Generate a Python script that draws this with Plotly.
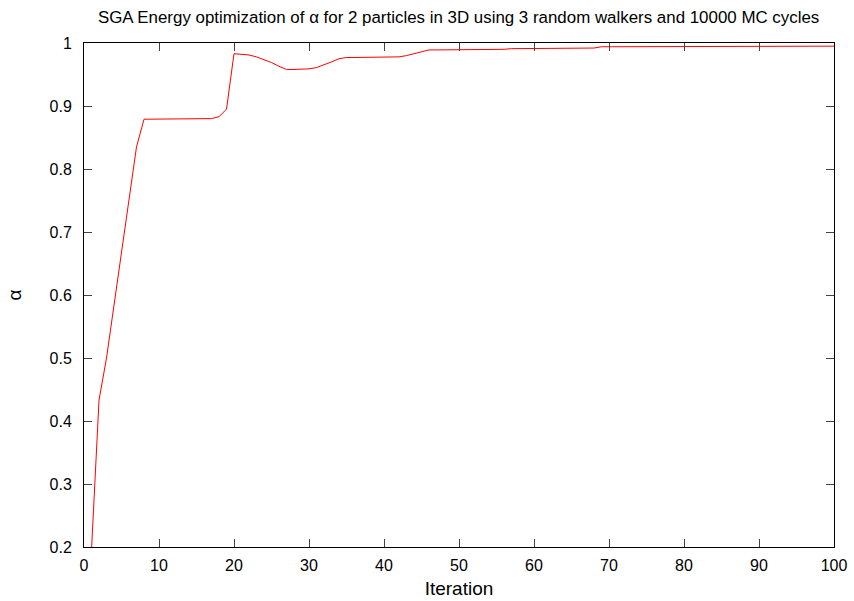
import plotly.graph_objects as go

iterations = list(range(1, 101))
alpha = [
    0.195, 0.433, 0.500, 0.585, 0.670, 0.755, 0.835, 0.879, 0.879, 0.879,
    0.879, 0.879, 0.879, 0.879, 0.879, 0.879, 0.880, 0.883, 0.895, 0.983,
    0.9825, 0.981, 0.978, 0.974, 0.969, 0.963, 0.958, 0.958, 0.958, 0.959,
    0.961, 0.965, 0.970, 0.975, 0.977, 0.977, 0.977, 0.977, 0.977, 0.977,
    0.977, 0.978, 0.980, 0.983, 0.986, 0.989, 0.989, 0.989, 0.989, 0.989,
    0.989, 0.989, 0.989, 0.989, 0.989, 0.990, 0.991, 0.991, 0.991, 0.991,
    0.991, 0.991, 0.991, 0.991, 0.991, 0.991, 0.991, 0.992, 0.994, 0.994,
    0.994, 0.994, 0.994, 0.994, 0.994, 0.994, 0.994, 0.994, 0.994, 0.994,
    0.994, 0.994, 0.994, 0.994, 0.994, 0.994, 0.994, 0.994, 0.994, 0.995,
    0.995, 0.995, 0.995, 0.995, 0.995, 0.995, 0.995, 0.995, 0.995, 0.995,
]
x_ticks = [0, 10, 20, 30, 40, 50, 60, 70, 80, 90, 100]
y_ticks = [0.2, 0.3, 0.4, 0.5, 0.6, 0.7, 0.8, 0.9, 1.0]
y_tick_labels = ["0.2", "0.3", "0.4", "0.5", "0.6", "0.7", "0.8", "0.9", "1"]

FONT = "Liberation Sans, Arial, sans-serif"

fig = go.Figure()
fig.add_trace(go.Scatter(x=iterations, y=alpha, mode="lines",
                         line=dict(color="#ff0000", width=1), showlegend=False))

axis_common = dict(showline=True, linecolor="black", linewidth=1, mirror="ticks",
                   ticks="inside", ticklen=8, tickcolor="#444444", showgrid=False,
                   zeroline=False, automargin=False,
                   tickfont=dict(family=FONT, size=16, color="black"))

fig.update_layout(
    width=854, height=601,
    margin=dict(l=84, r=20, t=43, b=54),
    paper_bgcolor="white", plot_bgcolor="white",
    font=dict(family=FONT, size=16, color="black"),
    title=dict(text="SGA Energy optimization of α for 2 particles in 3D using 3 random walkers and 10000 MC cycles",
               x=0.537, xanchor="center", y=1 - 17 / 601, yanchor="middle", yref="container",
               font=dict(family=FONT, size=16.9, color="black")),
    xaxis=dict(range=[0, 100], tickvals=x_ticks, title=dict(text="Iteration", standoff=8),
               ticklabelstandoff=4, **axis_common),
    yaxis=dict(range=[0.2, 1.0], tickvals=y_ticks, ticktext=y_tick_labels,
               title=dict(text="α", standoff=22), ticklabelstandoff=8, **axis_common),
)

fig.write_html("out.html")
